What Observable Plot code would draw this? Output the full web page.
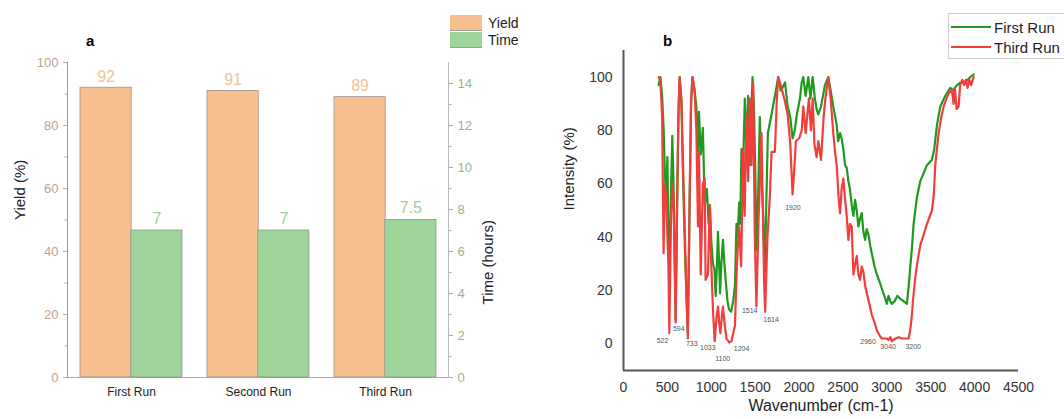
<!DOCTYPE html>
<html><head><meta charset="utf-8">
<script src="https://cdn.jsdelivr.net/npm/d3@7"></script>
<script src="https://cdn.jsdelivr.net/npm/@observablehq/plot@0.6"></script>
<style>
html,body{margin:0;padding:0;background:#fff;}
#wrap{position:relative;width:1064px;height:419px;overflow:hidden;font-family:"Liberation Sans",Arial,sans-serif;}
#wrap svg{position:absolute;top:0;}
.lab{position:absolute;font-weight:bold;font-size:15px;color:#000;}
.legA{position:absolute;left:450px;top:14px;font-size:14px;color:#222;}
.legA .row{display:flex;align-items:center;height:17.5px;}
.legA .sw{display:inline-block;width:32px;height:16px;margin-right:6px;box-sizing:border-box;}
.legB{position:absolute;left:948px;top:13px;width:130px;height:46px;border:1px solid #ccc;box-sizing:border-box;font-size:15px;color:#222;padding-top:3px;}
.legB .row{display:flex;align-items:center;height:20px;margin-left:2px;}
.legB .ln{display:inline-block;width:40px;height:2px;margin-right:3px;}
</style></head>
<body><div id="wrap"></div>
<script>
// ---------- panel a data ----------
const runs = ["First Run", "Second Run", "Third Run"];
const yieldPct = [92, 91, 89];
const timeHours = [7, 7, 7.5];
const yieldTicks = [0, 20, 40, 60, 80, 100];
const yieldMinorTicks = [10, 30, 50, 70, 90];
const timeTicks = [0, 2, 4, 6, 8, 10, 12, 14];
const timeMinorTicks = [1, 3, 5, 7, 9, 11, 13];
const seriesA = ["Yield", "Time"];
const colorsA = ["#f9c08f", "#9dd49a"];

// ---------- panel b data ----------
const firstRunWn = [400,420,440,457,472,487,500,510,522,540,556,570,580,594,610,625,640,660,680,700,720,733,750,770,786,810,830,849,860,880,904,925,950,970,985,1001,1020,1036,1050,1065,1076,1090,1100,1115,1133,1150,1164,1185,1201,1226,1250,1270,1287,1300,1318,1330,1344,1360,1382,1400,1420,1439,1455,1470,1485,1500,1514,1530,1553,1572,1590,1610,1625,1645,1686,1720,1762,1790,1812,1840,1870,1900,1926,1950,1975,2010,2030,2048,2075,2105,2130,2155,2180,2200,2219,2250,2295,2333,2360,2390,2429,2445,2467,2485,2505,2524,2543,2562,2580,2600,2619,2638,2657,2676,2695,2714,2733,2752,2770,2790,2810,2828,2860,2886,2920,2950,2981,3000,3019,3040,3057,3090,3120,3150,3190,3229,3250,3270,3286,3305,3343,3381,3420,3457,3514,3540,3571,3609,3666,3723,3750,3800,3840,3875,3920,3950,3989];
const firstRunInt = [97,100,93,81,63,55,70,45,20,55,78,60,40,9,50,85,100,90,60,35,15,4,45,90,100,95,89,72,87,71,81,52,58,45,52,38,30,28,18,30,42,30,19,30,39,30,24,16,13,12,16,22,45,40,53,45,73,63,92,73,93,67,85,100,90,67,35,50,85,61,50,27,50,79,86,92,100,95,96,98,89,85,77,80,86,92,98,100,93,100,92,100,92,88,86,89,97,100,95,89,82,76,79,77,73,67,66,61,58,52,48,54,50,44,47,49,42,39,43,41,37,34,29,26,23,20,17,15,18,16,15,16,18,17,16,15,22,30,36,45,55,61,64,67,69,73,82,89,93,96,95,97,98,98,99,100,101];
const thirdRunWn = [400,420,440,457,470,487,500,512,522,540,556,570,580,594,612,628,640,660,680,700,718,733,752,770,786,810,830,849,860,880,904,925,935,962,982,1000,1020,1039,1060,1077,1090,1104,1120,1133,1150,1173,1204,1230,1270,1287,1300,1317,1340,1363,1380,1401,1420,1439,1458,1477,1495,1514,1540,1572,1602,1614,1640,1667,1687,1725,1745,1762,1800,1839,1870,1900,1926,1945,1964,2000,2030,2048,2075,2112,2135,2155,2175,2200,2220,2250,2280,2300,2333,2360,2390,2410,2429,2450,2467,2485,2505,2525,2543,2562,2580,2600,2619,2640,2657,2676,2695,2714,2733,2752,2772,2800,2828,2860,2886,2920,2943,2970,3000,3020,3040,3057,3100,3133,3170,3210,3248,3270,3286,3300,3324,3350,3381,3420,3457,3514,3535,3552,3570,3590,3620,3647,3680,3704,3742,3760,3775,3795,3818,3835,3860,3880,3900,3920,3940,3960,3989];
const thirdRunInt = [100,99,85,34,60,55,40,30,4,45,60,55,35,8,55,90,100,92,65,40,18,2,50,92,100,95,80,44,72,26,60,62,24,26,52,30,12,1,10,14,8,4,10,14,8,2,0.5,1,7,25,35,44,29,73,48,86,61,92,67,98,42,14,48,79,23,12,40,55,72,72,90,100,96,91,86,75,56,65,76,77,80,89,79,92,80,92,75,70,76,69,85,92,100,92,79,72,67,55,49,58,62,54,48,39,45,44,26,30,33,26,24,29,27,22,19,15,11,8,5,3,2,2,2,1.5,2.5,1,2,2.5,2,2,2,6,11,17,25,31,37,41,45,50,56,67,73,79,85,89,92,94,95,90,96,88,89,97,99,97,99,96,99,97,100];
const peakNames = ["522","594","733","1033","1100","1204","1514","1614","1920","2960","3040","3200"];
const peakLabelWn = [445,630,778,960,1130,1345,1438,1681,1930,2786,3015,3300];
const peakLabelInt = [1,5.5,0,-1.5,-5.6,-2,12.4,9,51,0.8,-1.1,-1.1];
const wnTicks = [0,500,1000,1500,2000,2500,3000,3500,4000,4500];
const intTicks = [0,20,40,60,80,100];
const seriesB = ["First Run", "Third Run"];
const colorsB = ["#1e9a1e", "#f23d3d"];

const FONT = "Liberation Sans, Arial, sans-serif";
const wrap = document.getElementById("wrap");

// ---------- panel a ----------
const H = 419, WA = 540;
const mA = {top: 62, right: 92, bottom: 42, left: 67};
const step = (WA - mA.left - mA.right) / 3;
const half = step * 0.8 / 2;
const barData = runs.map((r, i) => ({run: r, yield: yieldPct[i], time: timeHours[i]}));
const common = {width: WA, height: H, marginTop: mA.top, marginRight: mA.right, marginBottom: mA.bottom, marginLeft: mA.left,
  style: {fontFamily: FONT, background: "transparent", overflow: "visible"}};

const plotYield = Plot.plot({
  ...common,
  x: {domain: runs, paddingInner: 0.2, paddingOuter: 0.1, label: null},
  y: {domain: [0, 100], label: null},
  marks: [
    Plot.barY(barData, {x: "run", y: "yield", fill: colorsA[0], stroke: "#8c8c8c", strokeWidth: 0.7, insetRight: half}),
    Plot.text(barData, {x: "run", y: "yield", text: d => String(d.yield), dx: -half / 2, dy: -11, fill: "#f2c29a", fontSize: 16}),
    Plot.axisY(yieldTicks, {tickSize: 4, tickPadding: 5, fontSize: 13, fill: "#bda48f", stroke: "#aaa", label: null}),
    Plot.axisY(yieldMinorTicks, {tickSize: 2.5, text: null, stroke: "#aaa", label: null}),
    Plot.axisX({tickSize: 0, tickPadding: 10, fontSize: 12, fill: "#222", label: null}),
    Plot.ruleY([0], {stroke: "#aaa"}),
    Plot.frame({anchor: "left", stroke: "#999"}),
    Plot.text(["Yield (%)"], {frameAnchor: "left", dx: -47, rotate: -90, fontSize: 15, fill: "#222"})
  ]
});
wrap.appendChild(plotYield);
plotYield.style.left = "0px";

const plotTime = Plot.plot({
  ...common,
  x: {domain: runs, paddingInner: 0.2, paddingOuter: 0.1, axis: null},
  y: {domain: [0, 15], label: null},
  marks: [
    Plot.barY(barData, {x: "run", y: "time", fill: colorsA[1], stroke: "#8c8c8c", strokeWidth: 0.7, insetLeft: half}),
    Plot.text(barData, {x: "run", y: "time", text: d => String(d.time), dx: half / 2, dy: -12, fill: "#9ccf99", fontSize: 16}),
    Plot.axisY(timeTicks, {anchor: "right", tickSize: 4, tickPadding: 5, fontSize: 13, fill: "#8fb88f", stroke: "#aaa", label: null}),
    Plot.axisY(timeMinorTicks, {anchor: "right", tickSize: 2.5, text: null, stroke: "#aaa", label: null}),
    Plot.frame({anchor: "right", stroke: "#bbb"}),
    Plot.text(["Time (hours)"], {frameAnchor: "right", dx: 40, rotate: -90, fontSize: 15, fill: "#222"})
  ]
});
wrap.appendChild(plotTime);
plotTime.style.left = "0px";

// ---------- panel b ----------
const WB = 524;
const lineData = [
  ...firstRunWn.map((w, i) => ({series: seriesB[0], wn: w, v: firstRunInt[i]})),
  ...thirdRunWn.map((w, i) => ({series: seriesB[1], wn: w, v: thirdRunInt[i]}))
];
const peakData = peakNames.map((t, i) => ({t, wn: peakLabelWn[i], v: peakLabelInt[i]}));
const plotB = Plot.plot({
  width: WB, height: H, marginTop: 50, marginRight: 46, marginBottom: 49, marginLeft: 83,
  style: {fontFamily: FONT, background: "transparent", overflow: "visible"},
  x: {domain: [0, 4500], label: null},
  y: {domain: [-10, 110], label: null},
  color: {domain: seriesB, range: colorsB},
  marks: [
    Plot.line(lineData, {x: "wn", y: "v", z: "series", stroke: "series", strokeWidth: 2.2, curve: "linear"}),
    Plot.text(peakData, {x: "wn", y: "v", text: "t", fontSize: 7, fill: "#555"}),
    Plot.axisX(wnTicks, {tickSize: 0, tickPadding: 12, fontSize: 14, fill: "#333", label: null, tickFormat: d => String(d)}),
    Plot.axisY(intTicks, {tickSize: 0, tickPadding: 11, fontSize: 14, fill: "#333", label: null, tickFormat: d => String(d)}),
    Plot.ruleX([0], {stroke: "#555", strokeWidth: 2}),
    Plot.ruleY([-10], {stroke: "#555", strokeWidth: 2}),
    Plot.text(["Wavenumber (cm-1)"], {frameAnchor: "bottom", dy: 40, fontSize: 16, fill: "#222"}),
    Plot.text(["Intensity (%)"], {frameAnchor: "left", dx: -54, rotate: -90, fontSize: 15, fill: "#222"})
  ]
});
wrap.appendChild(plotB);
plotB.style.left = "540px";

// ---------- labels & legends ----------
const la = document.createElement("div"); la.className = "lab"; la.textContent = "a"; la.style.left = "86px"; la.style.top = "32px"; wrap.appendChild(la);
const lb = document.createElement("div"); lb.className = "lab"; lb.textContent = "b"; lb.style.left = "663px"; lb.style.top = "32px"; wrap.appendChild(lb);

const legA = document.createElement("div"); legA.className = "legA";
seriesA.forEach((s, i) => {
  const r = document.createElement("div"); r.className = "row";
  const sw = document.createElement("span"); sw.className = "sw"; sw.style.background = colorsA[i];
  sw.style.borderBottom = "1px solid #999";
  r.appendChild(sw); r.appendChild(document.createTextNode(s)); legA.appendChild(r);
});
wrap.appendChild(legA);

const legB = document.createElement("div"); legB.className = "legB";
seriesB.forEach((s, i) => {
  const r = document.createElement("div"); r.className = "row";
  const ln = document.createElement("span"); ln.className = "ln"; ln.style.background = colorsB[i];
  r.appendChild(ln); r.appendChild(document.createTextNode(s)); legB.appendChild(r);
});
wrap.appendChild(legB);
</script>
</body></html>
